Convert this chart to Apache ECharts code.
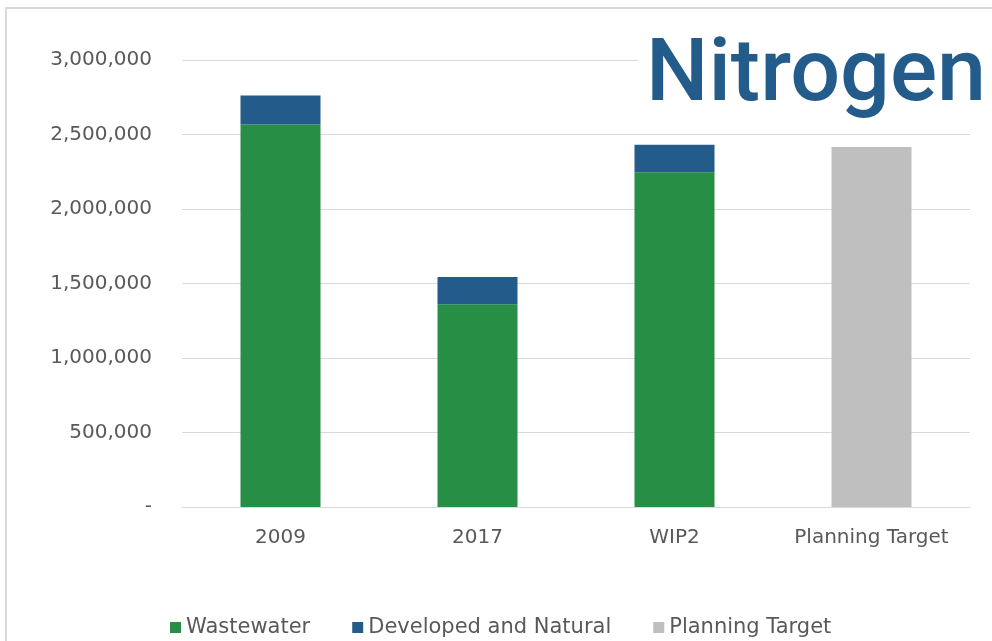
<!DOCTYPE html>
<html><head><meta charset="utf-8">
<script src="https://cdn.jsdelivr.net/npm/echarts@6/dist/echarts.min.js"></script>
<style>html,body{margin:0;padding:0;background:#fff}#c{width:992px;height:641px}</style>
</head><body><div id="c"></div>
<script>
const categories = ['2009', '2017', 'WIP2', 'Planning Target'];
const wastewater = [2567000, 1360000, 2246000, null];
const developed = [195000, 184000, 186000, null];
const planningTarget = [null, null, null, 2416000];
const yTicks = { min: 0, max: 3000000, interval: 500000 };

const chart = echarts.init(document.getElementById('c'), null, { renderer: 'canvas' });
const FONT = 'DejaVu Sans';
chart.setOption({
  backgroundColor: '#ffffff',
  animation: false,
  title: {
    text: 'Nitrogen',
    left: 638, top: 30,
    backgroundColor: '#ffffff',
    padding: [4, 8, 4, 8],
    textStyle: { fontFamily: 'Roboto', fontSize: 88, fontWeight: 500, color: '#235b8b' }
  },
  graphic: [{
    type: 'rect', silent: true, z: -1,
    shape: { x: 6, y: 8, width: 1000, height: 700 },
    style: { fill: 'none', stroke: '#d9d9d9', lineWidth: 2 }
  }],
  legend: {
    left: 165, top: 612,
    icon: 'rect', itemWidth: 11, itemHeight: 11, itemGap: 42,
    textStyle: { fontFamily: FONT, fontSize: 21, color: '#595959' },
    data: ['Wastewater', 'Developed and Natural', 'Planning Target']
  },
  grid: { left: 182, right: 22, top: 60, bottom: 134, containLabel: false },
  xAxis: {
    type: 'category', data: categories,
    axisLine: { show: true, lineStyle: { color: '#d9d9d9', width: 1 } },
    axisTick: { show: false },
    axisLabel: { interval: 0, fontFamily: FONT, fontSize: 20, color: '#595959', margin: 21 }
  },
  yAxis: {
    type: 'value', min: yTicks.min, max: yTicks.max, interval: yTicks.interval,
    axisLine: { show: false }, axisTick: { show: false },
    splitLine: { lineStyle: { color: '#d9d9d9', width: 1 } },
    axisLabel: {
      fontFamily: FONT, fontSize: 20, color: '#595959', margin: 30, padding: [5, 0, 0, 0],
      formatter: v => v === 0 ? '-' : v.toLocaleString('en-US')
    }
  },
  series: [
    { name: 'Wastewater', type: 'bar', stack: 'n', barWidth: 80, data: wastewater,
      itemStyle: { color: '#278f45' } },
    { name: 'Developed and Natural', type: 'bar', stack: 'n', barWidth: 80, data: developed,
      itemStyle: { color: '#235b8b' } },
    { name: 'Planning Target', type: 'bar', stack: 'n', barWidth: 80, data: planningTarget,
      itemStyle: { color: '#bfbfbf' } }
  ]
});
</script></body></html>
